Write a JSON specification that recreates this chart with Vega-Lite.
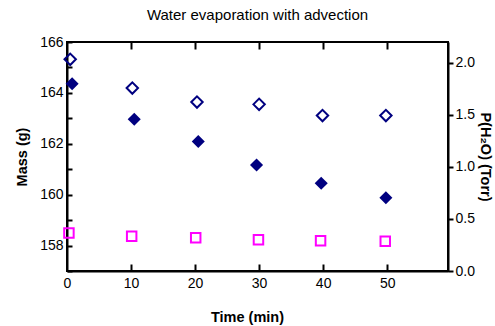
{
  "$schema": "https://vega.github.io/schema/vega-lite/v6.json",
  "autosize": {"type": "none"},
  "width": 381,
  "height": 229,
  "padding": {"left": 67, "top": 42, "right": 47, "bottom": 55},
  "title": {"text": "Water evaporation with advection", "fontSize": 15, "font": "Liberation Sans", "fontWeight": "normal", "color": "black", "offset": 12, "anchor": "middle"},
  "config": {
    "view": {"stroke": "black", "strokeWidth": 2},
    "font": "Liberation Sans",
    "axis": {"domainColor": "black", "domainWidth": 2, "tickColor": "black", "tickWidth": 2, "grid": false, "zindex": 2, "labelFont": "Liberation Sans", "labelFontSize": 14, "labelColor": "black", "titleFont": "Liberation Sans", "titleFontSize": 14.5, "titleFontWeight": "bold", "titleColor": "black"}
  },
  "datasets": {
    "filled": [
      {"t": 0.8, "mass": 164.36},
      {"t": 10.5, "mass": 162.96},
      {"t": 20.5, "mass": 162.09},
      {"t": 29.6, "mass": 161.17},
      {"t": 39.7, "mass": 160.45},
      {"t": 49.8, "mass": 159.88}
    ],
    "open": [
      {"t": 0.5, "mass": 165.32},
      {"t": 10.2, "mass": 164.19},
      {"t": 20.3, "mass": 163.64},
      {"t": 30.0, "mass": 163.55},
      {"t": 39.9, "mass": 163.11},
      {"t": 49.8, "mass": 163.11}
    ],
    "pressure": [
      {"t": 0.3, "p": 0.365},
      {"t": 10.1, "p": 0.334},
      {"t": 20.1, "p": 0.32},
      {"t": 29.9, "p": 0.30},
      {"t": 39.6, "p": 0.29},
      {"t": 49.7, "p": 0.285}
    ]
  },
  "layer": [
    {
      "layer": [
        {
          "data": {"name": "filled"},
          "mark": {"type": "point", "shape": "diamond", "filled": true, "color": "#000080", "opacity": 1, "size": 170},
          "encoding": {
            "x": {"field": "t", "type": "quantitative", "scale": {"domain": [0, 59.5], "nice": false, "zero": false},
              "axis": {"orient": "bottom", "title": "Time (min)", "values": [0, 10, 20, 30, 40, 50], "ticks": false, "labelPadding": 5, "titlePadding": 20, "titleX": 180, "labelFlush": false}},
            "y": {"field": "mass", "type": "quantitative", "scale": {"domain": [157, 166], "nice": false, "zero": false},
              "axis": {"orient": "left", "title": "Mass (g)", "values": [158, 160, 162, 164, 166], "ticks": false, "labelPadding": 4, "titlePadding": 10, "labelFlush": false}}
          }
        },
        {
          "data": {"name": "open"},
          "mark": {"type": "point", "shape": "diamond", "filled": false, "color": "#000080", "opacity": 1, "strokeWidth": 2, "size": 130},
          "encoding": {
            "x": {"field": "t", "type": "quantitative",
              "axis": {"orient": "bottom", "offset": -7, "title": null, "labels": false, "domain": false, "values": [10, 20, 30, 40, 50], "tickSize": 7, "ticks": true}},
            "y": {"field": "mass", "type": "quantitative",
              "axis": {"orient": "left", "offset": -5, "title": null, "labels": false, "domain": false, "values": [157, 158, 159, 160, 161, 162, 163, 164, 165, 166], "tickSize": 5, "ticks": true}}
          }
        },
        {
          "data": {"name": "open"},
          "mark": {"type": "point", "opacity": 0},
          "encoding": {
            "x": {"field": "t", "type": "quantitative",
              "axis": {"orient": "top", "offset": -7, "title": null, "labels": false, "domain": false, "values": [10, 20, 30, 40, 50], "tickSize": 7, "ticks": true}},
            "y": {"field": "mass", "type": "quantitative", "axis": null}
          }
        }
      ],
      "resolve": {"axis": {"x": "independent", "y": "independent"}}
    },
    {
      "data": {"name": "pressure"},
      "mark": {"type": "point", "shape": "square", "filled": false, "color": "#ff00ff", "opacity": 1, "strokeWidth": 2, "size": 90},
      "encoding": {
        "x": {"field": "t", "type": "quantitative", "axis": null},
        "y": {"field": "p", "type": "quantitative", "scale": {"domain": [0, 2.2], "nice": false, "zero": false},
          "axis": {"orient": "right", "title": "P(H₂O) (Torr)", "values": [0, 0.5, 1, 1.5, 2], "format": ".1f", "tickSize": 5, "labelPadding": 2, "titlePadding": 3, "labelFlush": false}}
      }
    }
  ],
  "resolve": {"scale": {"y": "independent"}, "axis": {"x": "independent", "y": "independent"}}
}
